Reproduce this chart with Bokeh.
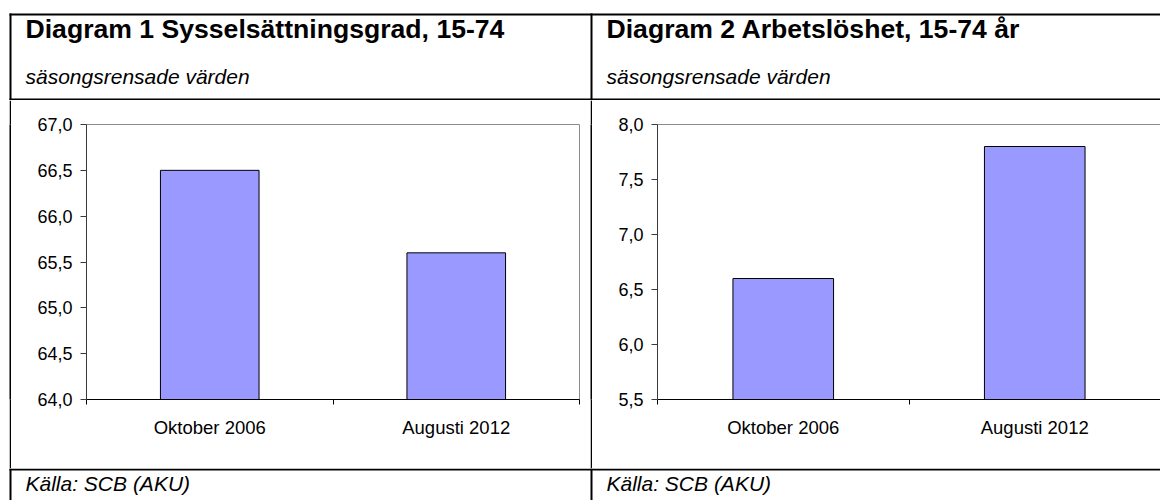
from bokeh.plotting import figure
from bokeh.models import Range1d, FixedTicker, ColumnDataSource, LinearAxis
from bokeh.layouts import row, column
from bokeh.core.properties import value
from bokeh.embed import file_html
from bokeh.resources import INLINE

# ---------------- data ----------------
categories = ["Oktober 2006", "Augusti 2012"]
employment_rate = [66.5, 65.6]          # Diagram 1: Sysselsättningsgrad
unemployment_rate = [6.6, 7.8]          # Diagram 2: Arbetslöshet
titles = ["Diagram 1 Sysselsättningsgrad, 15-74", "Diagram 2 Arbetslöshet, 15-74 år"]
subtitles = ["säsongsrensade värden", "säsongsrensade värden"]
source_notes = ["Källa: SCB (AKU)", "Källa: SCB (AKU)"]
y1_ticks = [64.0, 64.5, 65.0, 65.5, 66.0, 66.5, 67.0]
y1_labels = ["64,0", "64,5", "65,0", "65,5", "66,0", "66,5", "67,0"]
y2_ticks = [5.5, 6.0, 6.5, 7.0, 7.5, 8.0]
y2_labels = ["5,5", "6,0", "6,5", "7,0", "7,5", "8,0"]

FONT = "Liberation Sans"
TOTAL_W, TOTAL_H = 1160, 500
HEADER_H, FOOTER_H = 100, 32
CHART_H = TOTAL_H - HEADER_H - FOOTER_H
LEFT_X, COL1_X, MID_X = 9, 11, 590
COL2_X = MID_X + 2
TEXT_X = [25, 606]
FRAME_GREY = "#8c8c8c"


def blank(width, height, x0, y0, color="white"):
    """Figure whose frame is its whole canvas, in page pixel coordinates."""
    p = figure(width=width, height=height, output_backend="svg", toolbar_location=None,
               title=None, x_axis_location=None, y_axis_location=None,
               x_range=Range1d(x0, x0 + width), y_range=Range1d(y0 + height, y0),
               min_border=0)
    p.min_border_left = p.min_border_right = p.min_border_top = p.min_border_bottom = 0
    p.outline_line_color = None
    p.background_fill_color = color
    p.border_fill_color = color
    p.xgrid.visible = False
    p.ygrid.visible = False
    return p


def rules(p, lefts, rights, tops, bottoms):
    p.quad(left=lefts, right=rights, top=tops, bottom=bottoms,
           fill_color="black", line_color=None)


def texts(p, xs, ys, txt, size, style):
    p.text(x=xs, y=ys, text=txt, text_font=value(FONT), text_font_size=value(size),
           text_font_style=style, text_color="black", text_baseline="middle",
           text_align="left")


# ---------------- header ----------------
hdr = blank(TOTAL_W, HEADER_H, 0, 0)
rules(hdr, [LEFT_X, LEFT_X, LEFT_X, MID_X], [TOTAL_W, TOTAL_W, COL1_X, MID_X + 2],
      [13, 98, 13, 13], [15, 100, HEADER_H, HEADER_H])
texts(hdr, TEXT_X, [28, 28], titles, "26.6px", "bold")
texts(hdr, TEXT_X, [76, 76], subtitles, "21px", "italic")

# ---------------- footer ----------------
y0 = HEADER_H + CHART_H
ftr = blank(TOTAL_W, FOOTER_H, 0, y0)
rules(ftr, [LEFT_X, LEFT_X, MID_X], [TOTAL_W, COL1_X, MID_X + 2],
      [y0, y0, y0], [y0 + 2, TOTAL_H, TOTAL_H])
texts(ftr, TEXT_X, [483, 483], source_notes, "21px", "italic")

# ---------------- vertical rules beside charts ----------------
left_pad = blank(LEFT_X, CHART_H, 0, HEADER_H)
left_rule = blank(COL1_X - LEFT_X, CHART_H, LEFT_X, HEADER_H, color="black")
mid_rule = blank(2, CHART_H, MID_X, HEADER_H, color="black")


# ---------------- charts ----------------
def chart(values, yticks, ylabels, cell_x, cell_w, frame_l, frame_r, frame_t, frame_b,
          full_outline):
    p = figure(width=cell_w, height=CHART_H, output_backend="svg", toolbar_location=None,
               title=None,
               x_range=Range1d(0, len(categories)),
               y_range=Range1d(yticks[0], yticks[-1]),
               min_border_left=frame_l - cell_x,
               min_border_right=cell_x + cell_w - frame_r,
               min_border_top=frame_t - HEADER_H,
               min_border_bottom=HEADER_H + CHART_H - frame_b)
    p.background_fill_color = "white"
    p.border_fill_color = "white"
    p.xgrid.visible = False
    p.ygrid.visible = False
    if full_outline:
        p.outline_line_color = FRAME_GREY
        p.outline_line_width = 1
    else:
        # only a top border: the right edge of this plot lies outside the picture
        p.outline_line_color = None
        top = LinearAxis(ticker=FixedTicker(ticks=[], minor_ticks=[]),
                         axis_line_color=FRAME_GREY, major_tick_out=0, major_tick_in=0,
                         minor_tick_out=0, minor_tick_in=0,
                         major_label_text_font_size="0px")
        p.add_layout(top, "above")

    src = ColumnDataSource(dict(x=[i + 0.5 for i in range(len(categories))],
                                top=values, cat=categories))
    p.vbar(x="x", top="top", bottom=yticks[0], width=0.4, source=src,
           fill_color="#9999ff", line_color="black", line_width=1)

    xa = p.xaxis[0] if full_outline else p.below[0]
    xa.ticker = FixedTicker(ticks=[i + 0.5 for i in range(len(categories))],
                            minor_ticks=list(range(len(categories) + 1)))
    xa.major_label_overrides = {i + 0.5: c for i, c in enumerate(categories)}
    xa.major_tick_out = 0
    xa.major_tick_in = 0
    xa.minor_tick_out = 5
    xa.minor_tick_in = 0
    xa.axis_line_color = "black"
    xa.minor_tick_line_color = "black"
    xa.major_label_text_font = FONT
    xa.major_label_text_font_size = "18.5px"
    xa.major_label_text_color = "black"
    xa.major_label_standoff = 12

    ya = p.left[0]
    ya.ticker = FixedTicker(ticks=yticks, minor_ticks=[])
    ya.major_label_overrides = {t: l for t, l in zip(yticks, ylabels)}
    ya.major_tick_out = 6
    ya.major_tick_in = 0
    ya.axis_line_color = "#3a3a3a"
    ya.major_tick_line_color = "#3a3a3a"
    ya.major_label_text_font = FONT
    ya.major_label_text_font_size = "18px"
    ya.major_label_text_color = "black"
    ya.major_label_standoff = 8
    return p


c1 = chart(employment_rate, y1_ticks, y1_labels, COL1_X, MID_X - COL1_X,
           86, 579, 124, 399, True)
c2 = chart(unemployment_rate, y2_ticks, y2_labels, COL2_X, TOTAL_W - COL2_X,
           657, TOTAL_W, 124, 399, False)

layout = column(hdr, row(left_pad, left_rule, c1, mid_rule, c2, spacing=0), ftr, spacing=0)
open("out.html", "w").write(file_html(layout, INLINE))
